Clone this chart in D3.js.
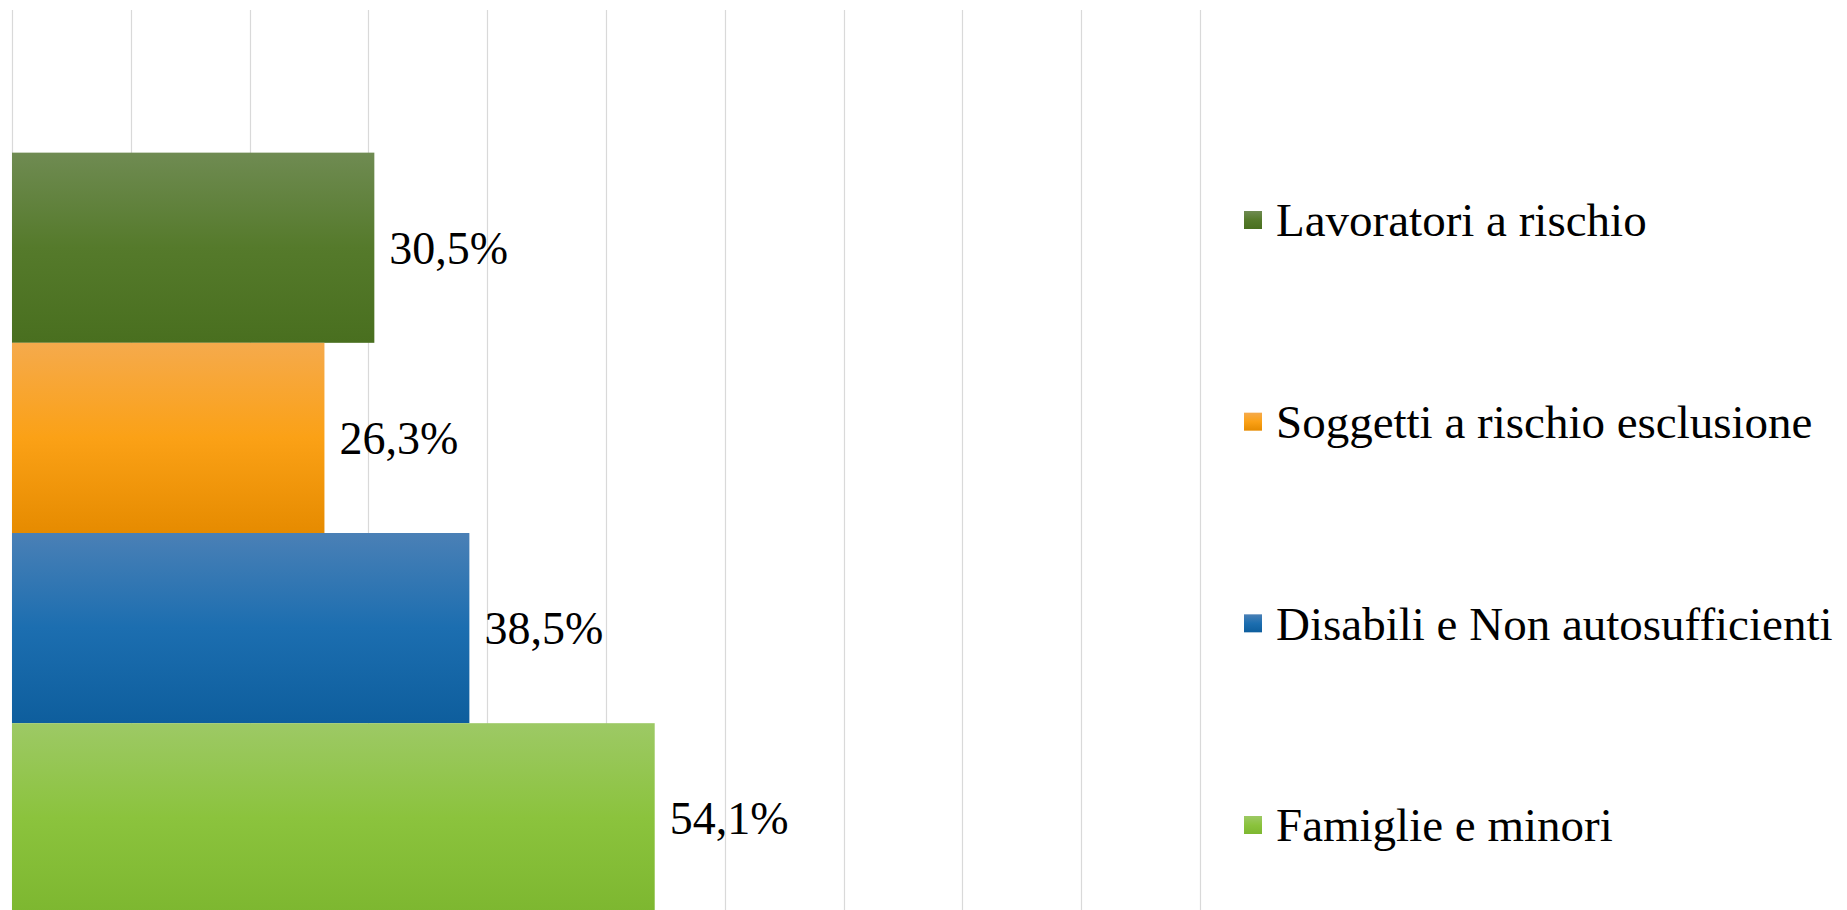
<!DOCTYPE html>
<html>
<head>
<meta charset="utf-8">
<script src="https://cdn.jsdelivr.net/npm/d3@7"></script>
<style>
  html, body { margin: 0; padding: 0; background: #ffffff; overflow: hidden; }
  svg { display: block; }
  svg text.lbl { font-family: "Times New Roman" !important; }
</style>
</head>
<body>
<svg id="chart" width="1847" height="910"></svg>
<script>
// ---- data ----
const categories = ["Lavoratori a rischio", "Soggetti a rischio esclusione", "Disabili e Non autosufficienti", "Famiglie e minori"];
const values = [30.5, 26.3, 38.5, 54.1];
const valueLabels = ["30,5%", "26,3%", "38,5%", "54,1%"];
const xTicks = [0, 10, 20, 30, 40, 50, 60, 70, 80, 90, 100];
const colorTop = ["#6f8b52", "#f5aa4c", "#4a80b6", "#9dc965"];
const colorMid = ["#557a2b", "#fba116", "#1c6eb0", "#8bc33d"];
const colorBottom = ["#496f1f", "#e68b00", "#0e5e9d", "#7db730"];

const svg = d3.select("#chart");

const x = d3.scaleLinear().domain([0, 100]).range([12, 1200]);
const y = d3.scaleBand().domain(categories).range([10, 1056]).paddingInner(0).paddingOuter(0.75);

// gradients
const defs = svg.append("defs");
categories.forEach((c, i) => {
  const g = defs.append("linearGradient").attr("id", "grad" + i)
    .attr("x1", 0).attr("y1", 0).attr("x2", 0).attr("y2", 1);
  g.append("stop").attr("offset", "0%").attr("stop-color", colorTop[i]);
  g.append("stop").attr("offset", "50%").attr("stop-color", colorMid[i]);
  g.append("stop").attr("offset", "100%").attr("stop-color", colorBottom[i]);
});

// gridlines (from the x scale)
svg.append("g").selectAll("line").data(xTicks).join("line")
  .attr("x1", d => Math.round(x(d)) + 0.5).attr("x2", d => Math.round(x(d)) + 0.5)
  .attr("y1", 10).attr("y2", 1056)
  .attr("stroke", "#d9d9d9").attr("stroke-width", 1.2);

// bars
svg.append("g").selectAll("rect").data(categories).join("rect")
  .attr("x", x(0))
  .attr("y", d => y(d))
  .attr("width", (d, i) => x(values[i]) - x(0))
  .attr("height", y.bandwidth())
  .attr("fill", (d, i) => "url(#grad" + i + ")");

// value labels
categories.forEach((c, i) => {
  svg.append("text")
    .attr("class", "lbl")
    .attr("x", x(values[i]) + 15)
    .attr("y", y(c) + y.bandwidth() / 2)
    .attr("dy", "0.35em")
    .attr("font-family", "Times New Roman")
    .attr("font-size", 46)
    .attr("fill", "#000")
    .text(valueLabels[i]);
});

// legend
const ly = d3.scalePoint().domain(categories).range([220, 825]);
categories.forEach((c, i) => {
  svg.append("rect")
    .attr("x", 1244).attr("y", ly(c) - 9).attr("width", 18).attr("height", 18)
    .attr("fill", "url(#grad" + i + ")");
  svg.append("text")
    .attr("class", "lbl")
    .attr("x", 1276).attr("y", ly(c)).attr("dy", "0.35em")
    .attr("font-family", "Times New Roman")
    .attr("font-size", 47)
    .attr("fill", "#000")
    .text(c);
});
</script>
</body>
</html>
